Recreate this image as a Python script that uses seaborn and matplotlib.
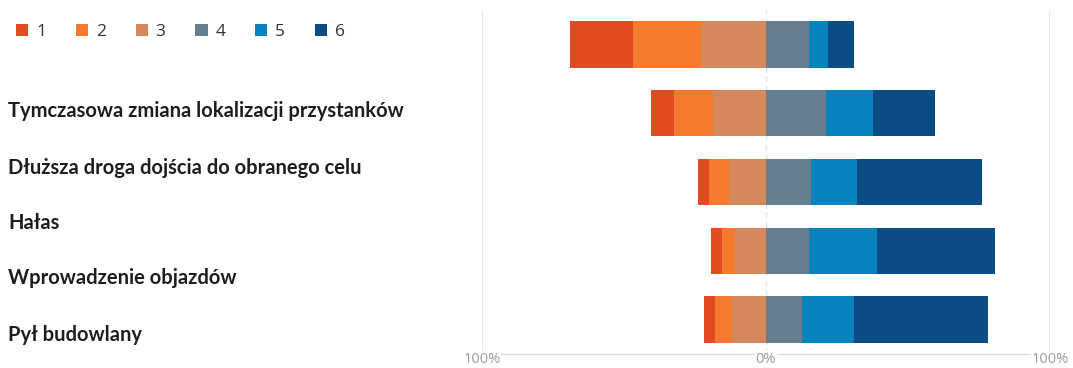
import matplotlib
matplotlib.use("Agg")
import matplotlib.pyplot as plt
import matplotlib.ticker as mticker
from matplotlib.patches import Patch
import pandas as pd
import seaborn as sns

# Survey answers on a 1-6 scale, share of respondents in percent
categories = [
    "Tymczasowa zmiana lokalizacji przystanków",
    "Dłuższa droga dojścia do obranego celu",
    "Hałas",
    "Wprowadzenie objazdów",
    "Pył budowlany",
]
levels = ["1", "2", "3", "4", "5", "6"]
share_1 = [22, 8, 4, 4, 4]
share_2 = [24, 14, 7, 4.5, 6]
share_3 = [23, 18.5, 13, 11, 12]
share_4 = [15, 21, 16, 15, 12.5]
share_5 = [7, 16.5, 16, 24, 18.5]
share_6 = [9, 22, 44, 41.5, 47]
x_ticks = [-100, 0, 100]

colors = ["#E24A22", "#F47A2E", "#D5885B", "#677E91", "#0782BD", "#0B4C86"]

sns.set_style("white")
plt.rcParams["font.family"] = ["Open Sans", "DejaVu Sans"]

df = pd.DataFrame({
    "category": categories,
    "s1": share_1, "s2": share_2, "s3": share_3,
    "s4": share_4, "s5": share_5, "s6": share_6,
})
# Cumulative extents: answers 1-3 grow to the left of zero, 4-6 to the right
df["l1"] = -(df.s1 + df.s2 + df.s3)
df["l2"] = -(df.s2 + df.s3)
df["l3"] = -df.s3
df["r6"] = df.s4 + df.s5 + df.s6
df["r5"] = df.s4 + df.s5
df["r4"] = df.s4

fig = plt.figure(figsize=(10.73, 3.68), dpi=100)
ax = fig.add_axes([482 / 1073, 14 / 368, 568 / 1073, 344 / 368])

layers = [("l1", colors[0]), ("l2", colors[1]), ("l3", colors[2]),
          ("r6", colors[5]), ("r5", colors[4]), ("r4", colors[3])]
for col, c in layers:
    sns.barplot(data=df, x=col, y="category", orient="h", color=c,
                saturation=1, width=0.675, ax=ax, zorder=2,
                linewidth=0, edgecolor="none")

ax.set_xlim(-100, 100)
ax.set_ylim(4.5, -0.5)
ax.set_xlabel("")
ax.set_ylabel("")
ax.set_axisbelow(True)

# Reference lines
for xv in (-100, 100):
    ax.axvline(xv, color="#e2e2e2", lw=1.1, zorder=0)
ax.axvline(0, color="#e2e2e2", lw=1.0, ls=(0, (4, 3)), zorder=0)

ax.set_xticks(x_ticks)
ax.xaxis.set_major_formatter(mticker.FuncFormatter(lambda v, p: f"{abs(v):.0f}%"))
ax.tick_params(axis="x", length=0, pad=-1.5, labelcolor="#9a9a9a", labelsize=10.5)
ax.tick_params(axis="y", left=False, labelleft=False)
for lab in ax.get_xticklabels():
    lab.set_bbox(dict(facecolor="white", edgecolor="none", pad=0.3))

for side in ("top", "left", "right"):
    ax.spines[side].set_visible(False)
ax.spines["bottom"].set_color("#dcdcdc")
ax.spines["bottom"].set_linewidth(1.0)
ax.spines["bottom"].set_zorder(0.4)

# Legend row
handles = [Patch(facecolor=c, edgecolor="none", label=l) for c, l in zip(colors, levels)]
leg = fig.legend(handles=handles, loc="center left",
                 bbox_to_anchor=(16 / 1073, 1 - 32 / 368), ncol=6, frameon=False,
                 fontsize=12.5, handlelength=0.7, handleheight=0.7,
                 handletextpad=0.45, columnspacing=1.72, borderpad=0,
                 borderaxespad=0)
for t in leg.get_texts():
    t.set_color("#333333")

# Category names
label_baselines = [117, 174, 229, 284, 341]
for name, yb in zip(categories, label_baselines):
    fig.text(8 / 1073, 1 - yb / 368, name, family=["Lato", "DejaVu Sans"],
             fontweight="bold", fontsize=14.5, color="#1e1e1e", va="baseline")

fig.savefig("out.png", dpi=100)
